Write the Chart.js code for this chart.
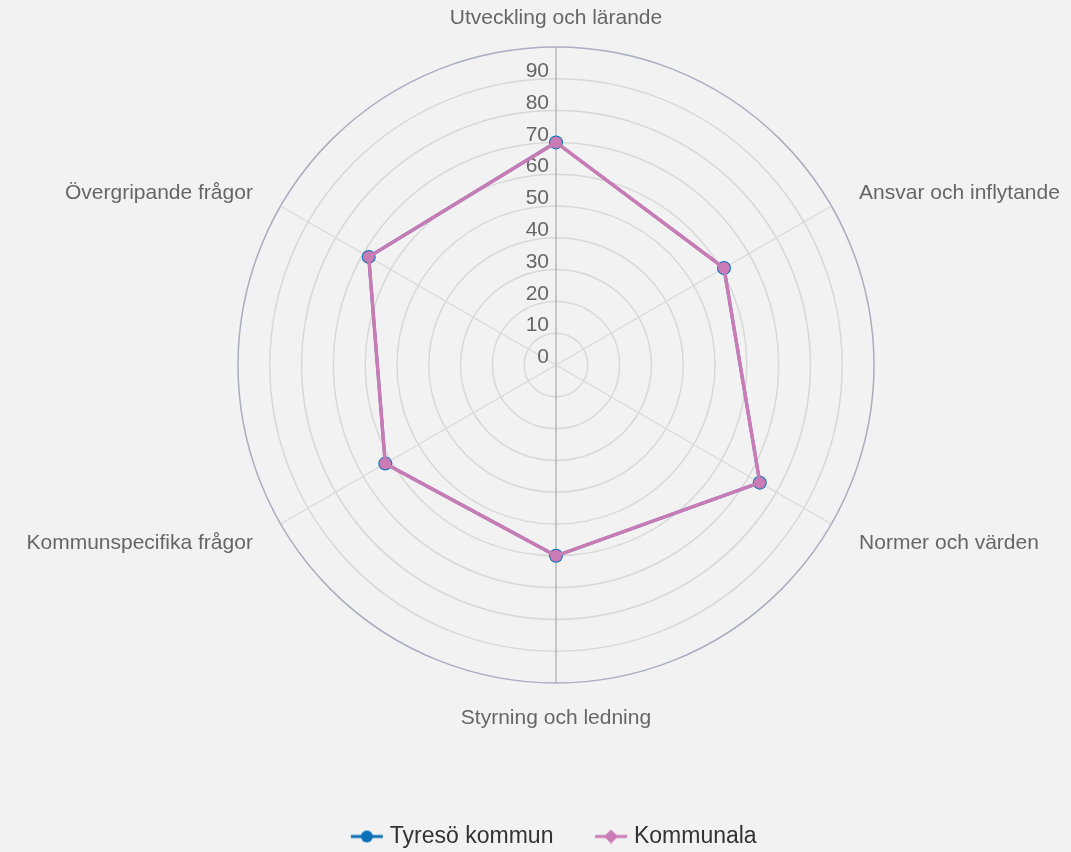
<!DOCTYPE html>
<html>
<head>
<meta charset="utf-8">
<script src="https://cdn.jsdelivr.net/npm/chart.js@4.4.0/dist/chart.umd.min.js"></script>
<style>
  html, body { margin: 0; padding: 0; background: #f2f2f2; }
  #wrap { width: 1071px; height: 852px; }
</style>
</head>
<body>
<div id="wrap"><canvas id="myChart"></canvas></div>
<script>
var Labels = ["Utveckling och lärande", "Ansvar och inflytande", "Normer och värden",
    "Styrning och ledning", "Kommunspecifika frågor", "Övergripande frågor"];
var Tyreso = [70, 61, 74, 60, 62, 68];
var Kommunala = [70, 61, 74, 60, 62, 68];
var TickValues = [0, 10, 20, 30, 40, 50, 60, 70, 80, 90];

var BLUE = '#0a70b8';
var PINK = '#c97bb5';
var FONT = '"Liberation Sans", Arial, sans-serif';

// legend marker: short line with the point on it
function legendMarker(color, style) {
    var c = document.createElement('canvas');
    c.width = 34; c.height = 14;
    var g = c.getContext('2d');
    g.strokeStyle = color;
    g.lineWidth = 3;
    g.beginPath(); g.moveTo(1, 7); g.lineTo(33, 7); g.stroke();
    g.fillStyle = color;
    g.beginPath();
    if (style === 'circle') {
        g.arc(17, 7, 6, 0, Math.PI * 2);
    } else {
        g.moveTo(17, 0); g.lineTo(24, 7); g.lineTo(17, 14); g.lineTo(10, 7); g.closePath();
    }
    g.fill();
    return c;
}

// tick labels left of the vertical axis, category labels centred on their spoke
const radarText = {
    id: 'radarText',
    afterInit(chart) {
        // keep the legend box short so the chart keeps its size
        var lg = chart.legend;
        var fit = lg.fit;
        lg.fit = function () { fit.call(this); this.height = 169; };
    },
    beforeDatasetsDraw(chart) {
        var scale = chart.scales.r;
        var ctx = chart.ctx;
        ctx.save();
        ctx.font = '21px ' + FONT;
        ctx.fillStyle = '#666';
        ctx.textAlign = 'right';
        ctx.textBaseline = 'bottom';
        TickValues.forEach(function (v) {
            var d = scale.getDistanceFromCenterForValue(v);
            ctx.fillText(String(v), scale.xCenter - 7, scale.yCenter - d + 3);
        });

        ctx.textBaseline = 'middle';
        Labels.forEach(function (lbl, i) {
            var p = scale.getPointPosition(i, scale.drawingArea + 32);
            var dx = p.x - scale.xCenter;
            ctx.textAlign = Math.abs(dx) < 1 ? 'center' : (dx > 0 ? 'left' : 'right');
            ctx.fillText(lbl, p.x, p.y + 3);
        });
        ctx.restore();
    }
};

const ctx = document.getElementById('myChart');
const myChart = new Chart(ctx, {
    type: 'radar',
    data: {
        labels: Labels,
        datasets: [{
            label: 'Tyresö kommun',
            data: Tyreso,
            borderColor: BLUE,
            backgroundColor: BLUE,
            borderWidth: 3,
            fill: false,
            pointStyle: 'circle',
            pointRadius: 7,
            pointBackgroundColor: BLUE,
            pointBorderWidth: 0,
            order: 1
        }, {
            label: 'Kommunala',
            data: Kommunala,
            borderColor: PINK,
            backgroundColor: PINK,
            borderWidth: 3.5,
            fill: false,
            pointStyle: 'circle',
            pointRadius: 6,
            pointBackgroundColor: PINK,
            pointBorderWidth: 0,
            order: 0
        }]
    },
    options: {
        responsive: true,
        maintainAspectRatio: false,
        animation: false,
        layout: { padding: { top: 47, bottom: 0, left: 41, right: 0 } },
        elements: { line: { tension: 0 } },
        scales: {
            r: {
                min: 0,
                max: 100,
                beginAtZero: true,
                ticks: { stepSize: 10, display: false },
                grid: {
                    circular: true,
                    lineWidth: 1.5,
                    color: function (c) {
                        return c.tick && c.tick.value === 100 ? '#a9adc0' : '#d8d8d8';
                    }
                },
                angleLines: {
                    lineWidth: 1.2,
                    color: function (c) {
                        return (c.index === 0 || c.index === 3) ? '#a8a8a8' : '#d8d8d8';
                    }
                },
                pointLabels: { display: false }
            }
        },
        plugins: {
            tooltip: { enabled: false },
            legend: {
                position: 'bottom',
                title: { display: true, text: '', padding: { top: 84, bottom: 0 }, font: { size: 10 } },
                labels: {
                    usePointStyle: true,
                    padding: 46,
                    color: '#333',
                    font: { size: 23, family: FONT },
                    generateLabels: function (chart) {
                        return chart.data.datasets.map(function (ds, i) {
                            return {
                                text: ds.label,
                                datasetIndex: i,
                                fontColor: '#333',
                                hidden: false,
                                lineWidth: 0,
                                strokeStyle: ds.borderColor,
                                fillStyle: ds.borderColor,
                                pointStyle: legendMarker(ds.borderColor, i === 0 ? 'circle' : 'diamond')
                            };
                        });
                    }
                }
            }
        }
    },
    plugins: [radarText]
});
</script>
</body>
</html>
